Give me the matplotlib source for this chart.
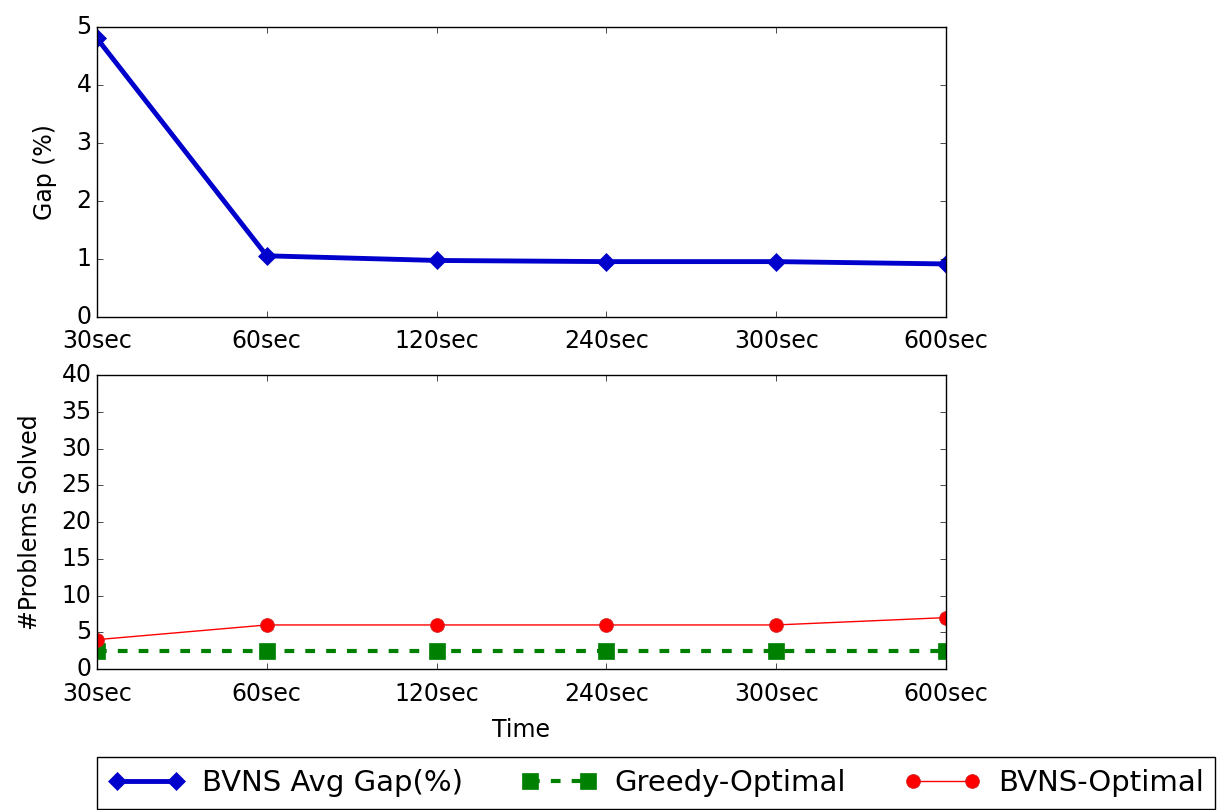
import matplotlib
matplotlib.use("Agg")
import matplotlib.pyplot as plt

times = ["30sec", "60sec", "120sec", "240sec", "300sec", "600sec"]
avg_gap = [4.8, 1.05, 0.97, 0.95, 0.95, 0.91]
greedy_optimal = [2.5, 2.5, 2.5, 2.5, 2.5, 2.5]
bvns_optimal = [4, 6, 6, 6, 6, 7]

plt.style.use("classic")
plt.rcParams["font.family"] = ["DejaVu Sans"]

fig = plt.figure(figsize=(12.27, 8.1), dpi=100, facecolor="white")
ax1 = fig.add_axes([0.079, 0.609, 0.692, 0.358])
ax2 = fig.add_axes([0.079, 0.174, 0.692, 0.363])

x = list(range(len(times)))

h1, = ax1.plot(x, avg_gap, color="#0000cc", lw=3.5, marker="D", ms=9,
               mec="#0000cc", label="BVNS Avg Gap(%)")
ax1.set_xlim(0, len(times) - 1)
ax1.set_ylim(0, 5)
ax1.set_xticks(x)
ax1.set_xticklabels(times)
ax1.set_ylabel("Gap (%)", fontsize=17, labelpad=14)

h2, = ax2.plot(x, greedy_optimal, color="green", lw=3, ls="--", marker="s",
               ms=11, mec="green", label="Greedy-Optimal", dashes=(7, 8))
h3, = ax2.plot(x, bvns_optimal, color="red", lw=1, marker="o", ms=10,
               mec="#cc2222", label="BVNS-Optimal")
ax2.set_xlim(0, len(times) - 1)
ax2.set_ylim(0, 40)
ax2.set_xticks(x)
ax2.set_xticklabels(times)
ax2.set_ylabel("#Problems Solved", fontsize=17, labelpad=14)
ax2.set_xlabel("Time", fontsize=17, labelpad=9)

for ax in (ax1, ax2):
    ax.tick_params(labelsize=17)
    ax.tick_params(axis="x", pad=9)

ax2.legend(handles=[h1, h2, h3], loc="upper left", bbox_to_anchor=(0.0, -0.3),
           ncol=3, fontsize=21, numpoints=2, handlelength=2.6,
           handletextpad=0.6, columnspacing=2.0, borderaxespad=0,
           frameon=True, fancybox=False)

fig.savefig("out.png", dpi=100, facecolor="white")
